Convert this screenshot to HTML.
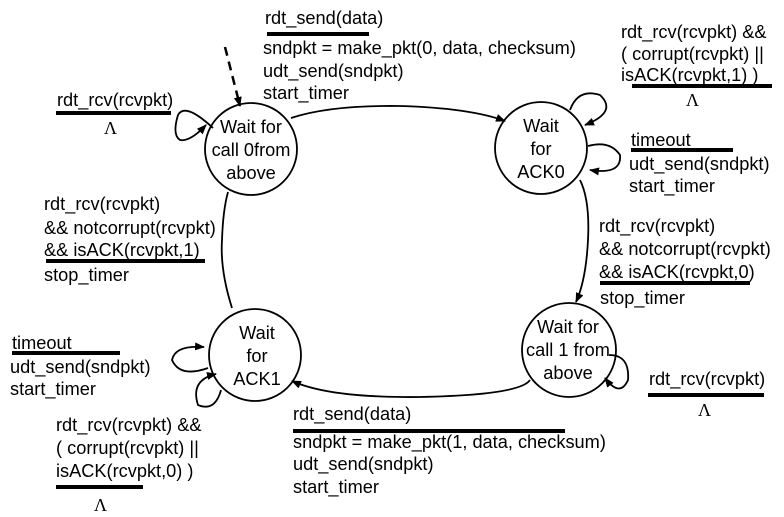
<!DOCTYPE html>
<html><head><meta charset="utf-8"><style>
html,body{margin:0;padding:0;background:#fff;}
svg{display:block;}
text{font-family:"Liberation Sans",Arial,sans-serif;font-size:18.2px;fill:#000;}
.l{font-family:"Liberation Serif",serif;font-size:18px;}
</style></head><body>
<svg width="784" height="517" viewBox="0 0 784 517" xmlns="http://www.w3.org/2000/svg">
<defs>
<marker id="a" markerWidth="10" markerHeight="8" refX="9" refY="4" orient="auto" markerUnits="userSpaceOnUse">
<path d="M0,0 L10,4 L0,8 Z" fill="#000"/></marker>
</defs>
<g fill="none" stroke="#000" stroke-width="1.8">
<circle cx="251" cy="149" r="46"/>
<circle cx="541" cy="148" r="46"/>
<circle cx="255" cy="355" r="46"/>
<circle cx="569" cy="350" r="47"/>
<path d="M225,47 L240,106" stroke-width="2.5" stroke-dasharray="9,6" marker-end="url(#a)"/>
<path d="M291,118 Q330,105 400,106 Q470,108 505,121" marker-end="url(#a)"/>
<path d="M580,180 Q590,200 588,240 Q586,280 576,302" marker-end="url(#a)"/>
<path d="M530,380 Q520,395 420,397 Q330,398 292,381" marker-end="url(#a)"/>
<path d="M232,308 Q220,270 222,240 Q223,210 228,192"/>
<path d="M213,128 Q185,102 178,115 Q172,135 180,140 Q190,142 206,125" marker-end="url(#a)"/>
<path d="M570,110 Q578,88 600,95 Q618,112 585,125" marker-end="url(#a)"/>
<path d="M588,146 Q610,140 620,155 Q622,175 590,170" marker-end="url(#a)"/>
<path d="M208,368 Q180,378 172,360 Q175,345 204,347" marker-end="url(#a)"/>
<path d="M221,390 Q215,412 198,405 Q190,380 216,374" marker-end="url(#a)"/>
<path d="M609,355 Q630,355 628,380 Q620,398 605,378" marker-end="url(#a)"/>
</g>
<g stroke="#000" stroke-width="4">
<line x1="267" y1="34" x2="369" y2="34"/>
<line x1="56" y1="113" x2="171" y2="113"/>
<line x1="46" y1="261" x2="205" y2="261"/>
<line x1="632" y1="86" x2="772" y2="86"/>
<line x1="631" y1="150" x2="733" y2="150"/>
<line x1="600" y1="283" x2="750" y2="283"/>
<line x1="12" y1="353" x2="120" y2="353"/>
<line x1="56" y1="487" x2="143" y2="487"/>
<line x1="293" y1="431" x2="565" y2="431"/>
<line x1="648" y1="395" x2="764" y2="395"/>
</g>
<g text-anchor="middle">
<text x="251" y="133">Wait for</text><text x="251" y="156">call 0from</text><text x="251" y="179">above</text>
<text x="541" y="132">Wait</text><text x="541" y="155">for</text><text x="541" y="178">ACK0</text>
<text x="257" y="339">Wait</text><text x="257" y="362">for</text><text x="257" y="385">ACK1</text>
<text x="568" y="333">Wait for</text><text x="568" y="356">call 1 from</text><text x="568" y="379">above</text>
</g>
<text x="265" y="24">rdt_send(data)</text>
<text x="263" y="54">sndpkt = make_pkt(0, data, checksum)</text>
<text x="263" y="77">udt_send(sndpkt)</text>
<text x="263" y="99">start_timer</text>
<text x="57" y="106">rdt_rcv(rcvpkt)</text>
<text class="l" x="104" y="134">Λ</text>
<text x="44" y="210">rdt_rcv(rcvpkt)</text>
<text x="44" y="234">&amp;&amp; notcorrupt(rcvpkt)</text>
<text x="44" y="256">&amp;&amp; isACK(rcvpkt,1)</text>
<text x="44" y="281">stop_timer</text>
<text x="621" y="38">rdt_rcv(rcvpkt) &amp;&amp;</text>
<text x="621" y="60">( corrupt(rcvpkt) ||</text>
<text x="621" y="81">isACK(rcvpkt,1) )</text>
<text class="l" x="686" y="106">Λ</text>
<text x="631" y="146">timeout</text>
<text x="629" y="170">udt_send(sndpkt)</text>
<text x="629" y="192">start_timer</text>
<text x="599" y="232">rdt_rcv(rcvpkt)</text>
<text x="599" y="255">&amp;&amp; notcorrupt(rcvpkt)</text>
<text x="599" y="278">&amp;&amp; isACK(rcvpkt,0)</text>
<text x="600" y="304">stop_timer</text>
<text x="12" y="349">timeout</text>
<text x="10" y="373">udt_send(sndpkt)</text>
<text x="10" y="395">start_timer</text>
<text x="56" y="431">rdt_rcv(rcvpkt) &amp;&amp;</text>
<text x="56" y="454">( corrupt(rcvpkt) ||</text>
<text x="56" y="477">isACK(rcvpkt,0) )</text>
<text class="l" x="94" y="511">Λ</text>
<text x="293" y="420">rdt_send(data)</text>
<text x="293" y="448">sndpkt = make_pkt(1, data, checksum)</text>
<text x="293" y="470">udt_send(sndpkt)</text>
<text x="293" y="493">start_timer</text>
<text x="649" y="385">rdt_rcv(rcvpkt)</text>
<text class="l" x="698" y="416">Λ</text>
</svg>
</body></html>
